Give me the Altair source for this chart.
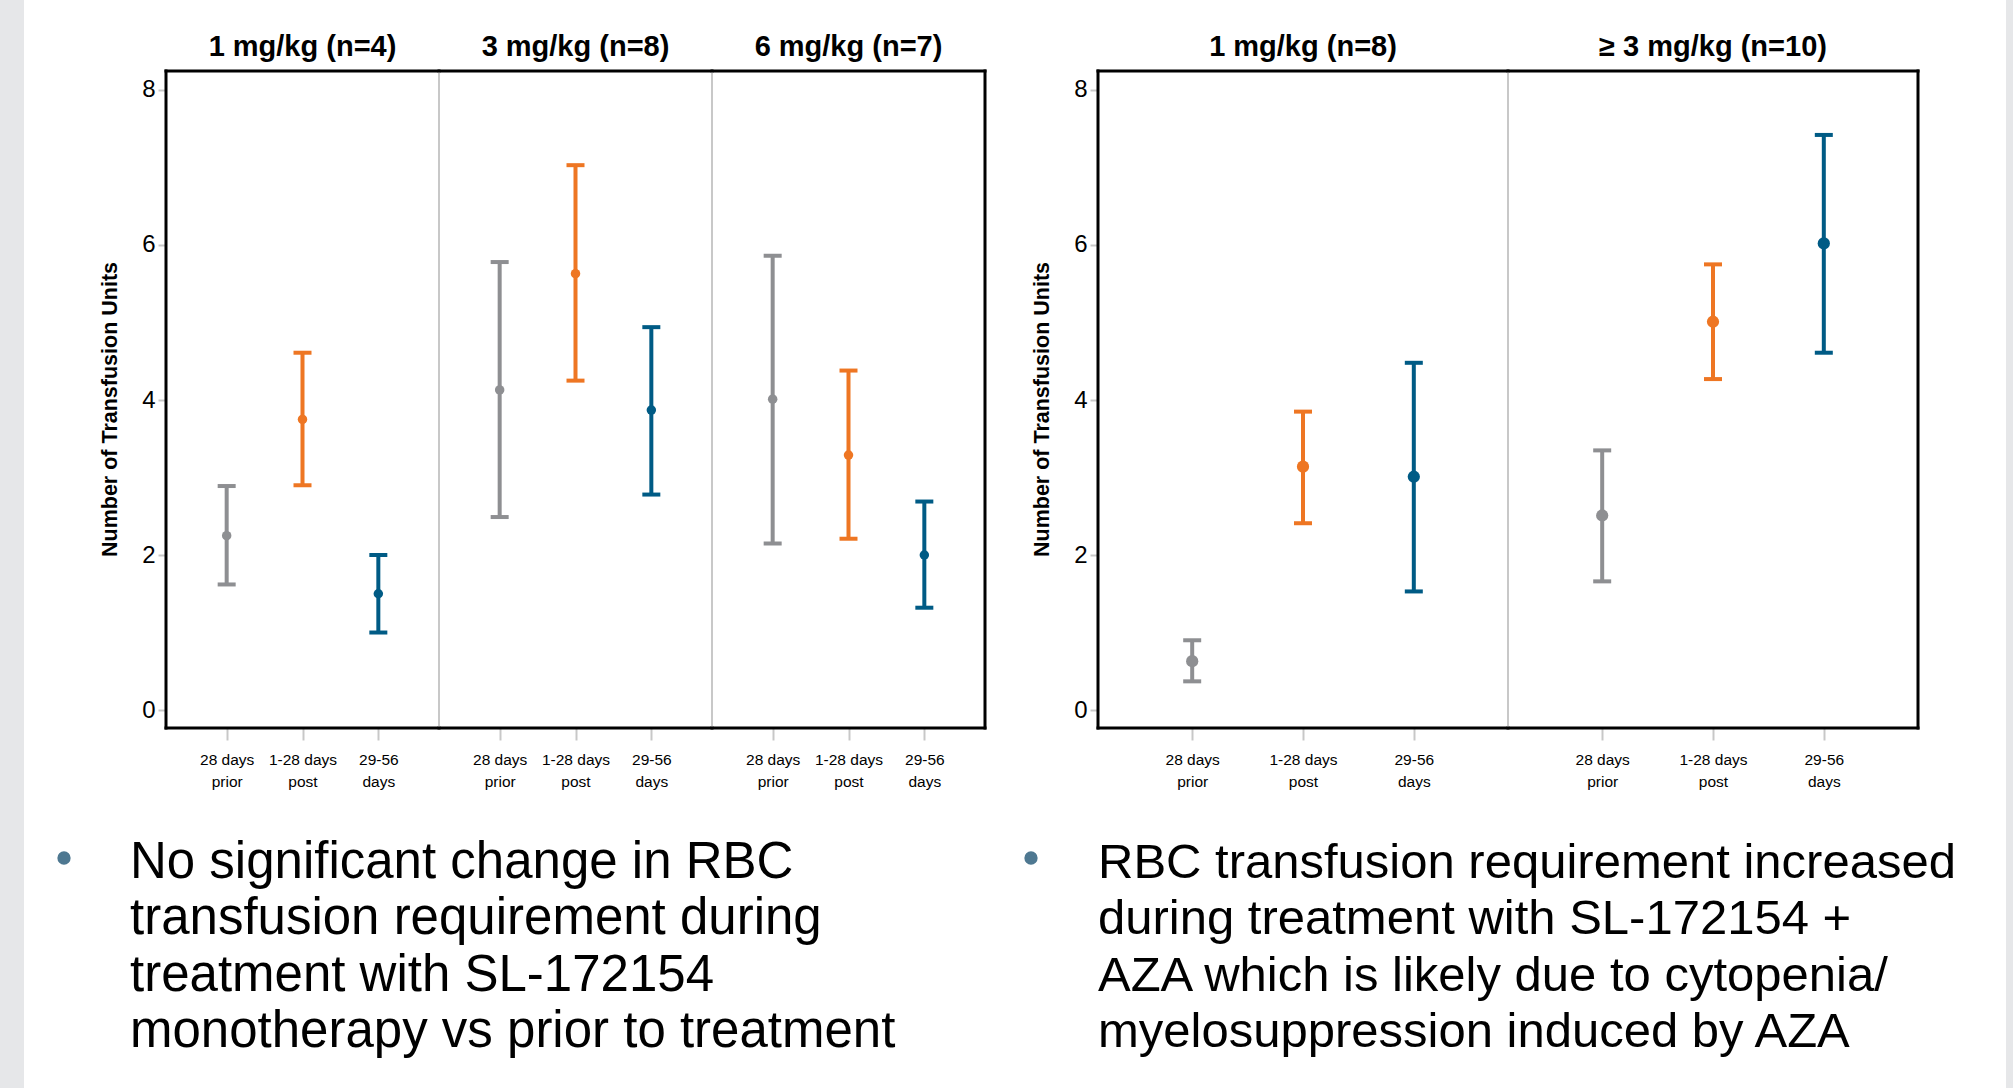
import altair as alt
import pandas as pd

# ---------------- data ----------------
periods = ["28 days prior", "1-28 days post", "29-56 days"]
period_colors = ["#8e8f92", "#ee7623", "#005b85"]

left_doses = ["1 mg/kg (n=4)", "3 mg/kg (n=8)", "6 mg/kg (n=7)"]
left_mean = [[2.25, 3.75, 1.50], [4.13, 5.63, 3.87], [4.01, 3.29, 2.00]]
left_low = [[1.62, 2.90, 1.00], [2.49, 4.25, 2.78], [2.15, 2.21, 1.32]]
left_high = [[2.89, 4.61, 2.00], [5.78, 7.03, 4.94], [5.86, 4.38, 2.69]]

right_doses = ["1 mg/kg (n=8)", "\u2265 3 mg/kg (n=10)"]
right_mean = [[0.63, 3.14, 3.01], [2.51, 5.01, 6.02]]
right_low = [[0.37, 2.41, 1.53], [1.66, 4.27, 4.61]]
right_high = [[0.90, 3.85, 4.48], [3.35, 5.75, 7.42]]

y_ticks = [0, 2, 4, 6, 8]
y_title = "Number of Transfusion Units"

left_note = ["No significant change in RBC",
             "transfusion requirement during",
             "treatment with SL-172154",
             "monotherapy vs prior to treatment"]
right_note = ["RBC transfusion requirement increased",
              "during treatment with SL-172154 +",
              "AZA which is likely due to cytopenia/",
              "myelosuppression induced by AZA"]

# ---------------- style ----------------
FONT = "Liberation Sans, Arial, Helvetica"
H = 657
Y_DOMAIN = [-0.232, 8.245]
STRIP = "#e6e7e9"
BULLET = "#4e7891"

one = alt.Data(values=[{}])


def vline(xv, color, w):
    return alt.Chart(one).mark_rule(color=color, strokeWidth=w, strokeCap="square").encode(
        x=alt.value(xv), y=alt.value(0), y2=alt.value(H))


def hline(yv, width, color, w):
    return alt.Chart(one).mark_rule(color=color, strokeWidth=w, strokeCap="square").encode(
        x=alt.value(0), x2=alt.value(width), y=alt.value(yv))


def header(text, width):
    return alt.Chart(one).mark_text(
        text=text, align="center", baseline="alphabetic", font=FONT, fontSize=29,
        fontWeight="bold", color="black").encode(x=alt.value(width / 2), y=alt.value(-15))


def panel(dose, means, lows, highs, width, pad, first, last, dot, extras):
    df = pd.DataFrame({"period": periods, "mean": means, "low": lows, "high": highs})
    base = alt.Chart(df)
    xenc = alt.X(
        "period:N", sort=periods,
        scale=alt.Scale(type="point", padding=pad, domain=periods),
        axis=alt.Axis(
            title=None, labelAngle=0, domain=False, grid=False,
            tickColor="#c8c8c8", tickSize=12, tickWidth=2,
            labelFont=FONT, labelFontSize=15.5, labelLineHeight=22,
            labelColor="black", labelPadding=12,
            labelExpr="[substring(datum.label, 0, lastindexof(datum.label, ' ')), "
                      "substring(datum.label, lastindexof(datum.label, ' ') + 1)]"))
    yscale = alt.Scale(domain=Y_DOMAIN, nice=False, zero=False)
    if first:
        yax = alt.Axis(values=y_ticks, title=y_title, domain=False, grid=False,
                       tickColor="#c8c8c8", tickSize=8, tickWidth=2,
                       labelFont=FONT, labelFontSize=24, labelColor="black", labelPadding=3,
                       titleFont=FONT, titleFontSize=21.5, titleFontWeight="bold",
                       titleColor="black", titlePadding=20, titleY=338)
    else:
        yax = None
    color = alt.Color("period:N", scale=alt.Scale(domain=periods, range=period_colors), legend=None)

    rule = base.mark_rule(strokeWidth=4).encode(
        x=xenc, y=alt.Y("low:Q", scale=yscale, axis=yax), y2="high:Q", color=color)
    cap_lo = base.mark_tick(size=18, thickness=4, opacity=1, filled=True).encode(
        x=xenc, y=alt.Y("low:Q", scale=yscale, axis=yax), color=color)
    cap_hi = base.mark_tick(size=18, thickness=4, opacity=1, filled=True).encode(
        x=xenc, y=alt.Y("high:Q", scale=yscale, axis=yax), color=color)
    pts = base.mark_circle(size=dot, opacity=1).encode(
        x=xenc, y=alt.Y("mean:Q", scale=yscale, axis=yax), color=color)

    layers = list(extras)
    if not first:
        layers.append(vline(0, "#c8c8c8", 2))
    layers += [rule, cap_lo, cap_hi, pts]
    layers += [hline(0, width, "black", 3), hline(H, width, "black", 3)]
    if first:
        layers.append(vline(0, "black", 3))
    if last:
        layers.append(vline(width, "black", 3))
    layers.append(header(dose, width))
    return alt.layer(*layers).properties(width=width, height=H)


def note(lines, x_text, x_bullet, size):
    txt = alt.Chart(one).mark_text(
        text=lines, align="left", baseline="alphabetic", font=FONT, fontSize=size,
        lineHeight=56.3, color="black").encode(x=alt.value(x_text), y=alt.value(807))
    dot = alt.Chart(one).mark_circle(size=177, color=BULLET, opacity=1).encode(
        x=alt.value(x_bullet), y=alt.value(787))
    return [txt, dot]


left_strip = alt.Chart(one).mark_rect(color=STRIP).encode(
    x=alt.value(-166), x2=alt.value(-142), y=alt.value(-71), y2=alt.value(1017))
right_strip = alt.Chart(one).mark_rect(color=STRIP).encode(
    x=alt.value(498), x2=alt.value(505), y=alt.value(-71), y2=alt.value(1017))

LW = 273
RW = 410
GAP = 113

panels = []
for i, d in enumerate(left_doses):
    extras = []
    if i == 0:
        extras = [left_strip] + note(left_note, -36, -102, 51)
    panels.append(panel(d, left_mean[i], left_low[i], left_high[i], LW, 0.8,
                        i == 0, i == len(left_doses) - 1, 90, extras))

spacer = alt.Chart(one).mark_text(text=" ").encode(
    x=alt.value(0), y=alt.value(0)).properties(width=GAP, height=H)
panels.append(spacer)

for i, d in enumerate(right_doses):
    extras = []
    if i == 0:
        extras = note(right_note, 0, -67, 49)
    if i == len(right_doses) - 1:
        extras = [right_strip]
    panels.append(panel(d, right_mean[i], right_low[i], right_high[i], RW, 0.85,
                        i == 0, i == len(right_doses) - 1, 150, extras))

chart = alt.hconcat(*panels, spacing=0, bounds="flush").properties(
    padding=0, background="white"
).configure_view(stroke=None)

chart.save("out.html", embed_options={"renderer": "svg", "actions": False})
